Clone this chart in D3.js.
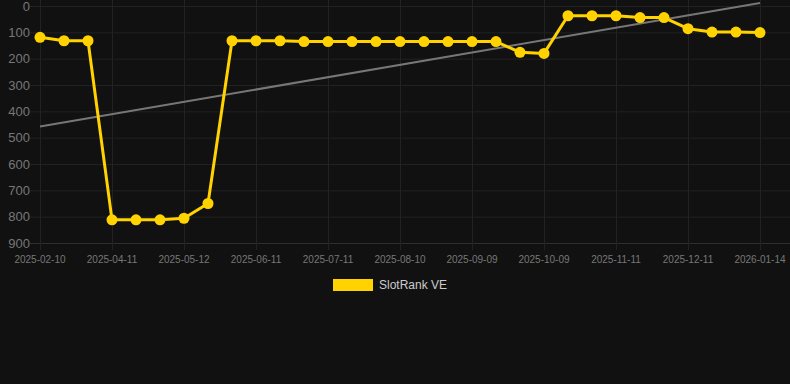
<!DOCTYPE html>
<html>
<head>
<meta charset="utf-8">
<script src="https://cdn.jsdelivr.net/npm/d3@7/dist/d3.min.js"></script>
<style>
  html, body { margin: 0; padding: 0; background: #111111; }
  svg { display: block; }
</style>
</head>
<body>
<svg id="chart" width="790" height="384"></svg>
<script>
const categories = [
  "2025-02-10","2025-03-02","2025-03-22","2025-04-11","2025-04-21","2025-05-01",
  "2025-05-12","2025-05-22","2025-06-01","2025-06-11","2025-06-21","2025-07-01",
  "2025-07-11","2025-07-21","2025-07-31","2025-08-10","2025-08-20","2025-08-30",
  "2025-09-09","2025-09-19","2025-09-29","2025-10-09","2025-10-20","2025-10-31",
  "2025-11-11","2025-11-21","2025-12-01","2025-12-11","2025-12-22","2026-01-03",
  "2026-01-14"
];
const rankValues = [
  119, 132, 132, 812, 812, 812,
  806, 750, 132, 132, 132, 135,
  135, 135, 135, 135, 135, 135,
  135, 135, 176, 180, 37, 37,
  37, 44, 44, 86, 99, 99,
  101
];
const xTickLabels = [
  "2025-02-10","2025-04-11","2025-05-12","2025-06-11","2025-07-11","2025-08-10",
  "2025-09-09","2025-10-09","2025-11-11","2025-12-11","2026-01-14"
];
const yTicks = [0, 100, 200, 300, 400, 500, 600, 700, 800, 900];
const seriesName = "SlotRank VE";

const svg = d3.select("#chart");
const W = 790;
const x = d3.scalePoint().domain(categories).range([40, 760]);
const y = d3.scaleLinear().domain([0, 900]).range([6, 243]);

// horizontal grid
svg.append("g").selectAll("line").data(yTicks).join("line")
  .attr("x1", 30).attr("x2", W)
  .attr("y1", d => y(d) + 0.5).attr("y2", d => y(d) + 0.5)
  .attr("stroke", d => d === 900 ? "#2e2e2e" : "#222222").attr("stroke-width", 1);

// vertical grid
svg.append("g").selectAll("line").data(xTickLabels).join("line")
  .attr("x1", d => Math.round(x(d)) + 0.5).attr("x2", d => Math.round(x(d)) + 0.5)
  .attr("y1", 0).attr("y2", 250)
  .attr("stroke", "#222222").attr("stroke-width", 1);

// y labels
svg.append("g").selectAll("text").data(yTicks).join("text")
  .attr("x", 30).attr("y", d => y(d))
  .attr("dy", "0.35em")
  .attr("text-anchor", "end")
  .attr("font-family", "Liberation Sans, Arial, sans-serif")
  .attr("font-size", 13)
  .attr("fill", "#777777")
  .text(d => d);

// x labels
svg.append("g").selectAll("text").data(xTickLabels).join("text")
  .attr("x", d => x(d)).attr("y", 263)
  .attr("text-anchor", "middle")
  .attr("font-family", "Liberation Sans, Arial, sans-serif")
  .attr("font-size", 10)
  .attr("fill", "#777777")
  .text(d => d);

// trend line (linear regression)
const n = rankValues.length;
const xs = d3.range(n);
const mx = d3.mean(xs), my = d3.mean(rankValues);
const slope = d3.sum(xs, i => (i - mx) * (rankValues[i] - my)) / d3.sum(xs, i => (i - mx) ** 2);
const intercept = my - slope * mx;
svg.append("line")
  .attr("x1", x(categories[0])).attr("y1", y(intercept))
  .attr("x2", x(categories[n - 1])).attr("y2", y(intercept + slope * (n - 1)))
  .attr("stroke", "#777777").attr("stroke-width", 2);

// series line
const line = d3.line().x((d, i) => x(categories[i])).y(d => y(d));
svg.append("path").datum(rankValues)
  .attr("d", line)
  .attr("fill", "none")
  .attr("stroke", "#FFD200")
  .attr("stroke-width", 3)
  .attr("stroke-linejoin", "round");

svg.append("g").selectAll("circle").data(rankValues).join("circle")
  .attr("cx", (d, i) => x(categories[i]))
  .attr("cy", d => y(d))
  .attr("r", 5.5)
  .attr("fill", "#FFD200");

// legend
svg.append("rect").attr("x", 333).attr("y", 279).attr("width", 40).attr("height", 12)
  .attr("fill", "#FFD200");
svg.append("text").attr("x", 379).attr("y", 285).attr("dy", "0.35em")
  .attr("font-family", "Liberation Sans, Arial, sans-serif")
  .attr("font-size", 12)
  .attr("fill", "#cccccc")
  .text(seriesName);
</script>
</body>
</html>
